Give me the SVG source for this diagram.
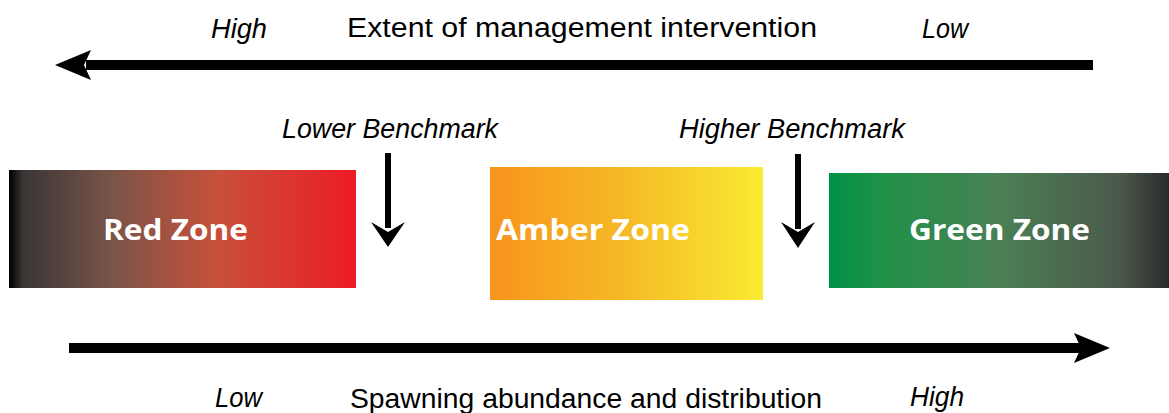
<svg xmlns="http://www.w3.org/2000/svg" width="1169" height="413" viewBox="0 0 1169 413">
<defs>
<linearGradient id="gRed" x1="0" y1="0" x2="1" y2="0">
<stop offset="0" stop-color="#000"/>
<stop offset="0.04" stop-color="#3a3636"/>
<stop offset="0.3" stop-color="#7a5548"/>
<stop offset="0.6" stop-color="#c8503a"/>
<stop offset="1" stop-color="#ed1c24"/>
</linearGradient>
<linearGradient id="gAmber" x1="0" y1="0" x2="1" y2="0">
<stop offset="0" stop-color="#f7941d"/>
<stop offset="0.5" stop-color="#f6ba26"/>
<stop offset="1" stop-color="#f9eb32"/>
</linearGradient>
<linearGradient id="gGreen" x1="0" y1="0" x2="1" y2="0">
<stop offset="0" stop-color="#009245"/>
<stop offset="0.15" stop-color="#1e9148"/>
<stop offset="0.5" stop-color="#4a8054"/>
<stop offset="0.85" stop-color="#4a5a4c"/>
<stop offset="1" stop-color="#2b2b2b"/>
</linearGradient>
</defs>
<style>
.t{font-family:"Liberation Sans","DejaVu Sans",sans-serif;font-size:27px;fill:#000}
.i{font-style:italic}
.z{font-family:"Open Sans","Liberation Sans",sans-serif;font-weight:bold;font-size:29px;fill:#fff}
.ah{fill:#000}
</style>
<g id="connectors">
<g id="top-arrow">
<rect x="86" y="60" width="1007" height="10" class="ah"/>
<path d="M55,65 L91,50 L84,65 L91,80 Z" class="ah"/>
</g>
<g id="bottom-arrow">
<rect x="69" y="343" width="1012" height="10" class="ah"/>
<path d="M1110,348 L1074,333 L1081,348 L1074,363 Z" class="ah"/>
</g>
<g id="lower-benchmark-arrow">
<rect x="385" y="153" width="6" height="75" class="ah"/>
<path d="M388,247 L371,222 L388,232 L405,222 Z" class="ah"/>
</g>
<g id="higher-benchmark-arrow">
<rect x="795" y="154" width="6" height="75" class="ah"/>
<path d="M798,248 L781,222 L798,232 L815,222 Z" class="ah"/>
</g>
</g>
<g id="labels">
<text class="t i" x="211" y="38" textLength="56" lengthAdjust="spacingAndGlyphs">High</text>
<text class="t" x="347" y="37" textLength="470" lengthAdjust="spacingAndGlyphs">Extent of management intervention</text>
<text class="t i" x="922" y="38" textLength="46" lengthAdjust="spacingAndGlyphs">Low</text>
<text class="t i" x="282" y="138" textLength="216" lengthAdjust="spacingAndGlyphs">Lower Benchmark</text>
<text class="t i" x="679" y="138" textLength="226" lengthAdjust="spacingAndGlyphs">Higher Benchmark</text>
<text class="t i" x="215" y="407" textLength="47" lengthAdjust="spacingAndGlyphs">Low</text>
<text class="t" x="350" y="408" textLength="472" lengthAdjust="spacingAndGlyphs">Spawning abundance and distribution</text>
<text class="t i" x="910" y="406" textLength="54" lengthAdjust="spacingAndGlyphs">High</text>
</g>
<g id="red-zone">
<rect x="9" y="170" width="347" height="118" fill="url(#gRed)"/>
<text class="z" x="103" y="240" textLength="145" lengthAdjust="spacingAndGlyphs">Red Zone</text>
</g>
<g id="amber-zone">
<rect x="490" y="167" width="273" height="133" fill="url(#gAmber)"/>
<text class="z" x="496" y="240" textLength="194" lengthAdjust="spacingAndGlyphs">Amber Zone</text>
</g>
<g id="green-zone">
<rect x="829" y="173" width="340" height="115" fill="url(#gGreen)"/>
<text class="z" x="909" y="240" textLength="181" lengthAdjust="spacingAndGlyphs">Green Zone</text>
</g>
</svg>
